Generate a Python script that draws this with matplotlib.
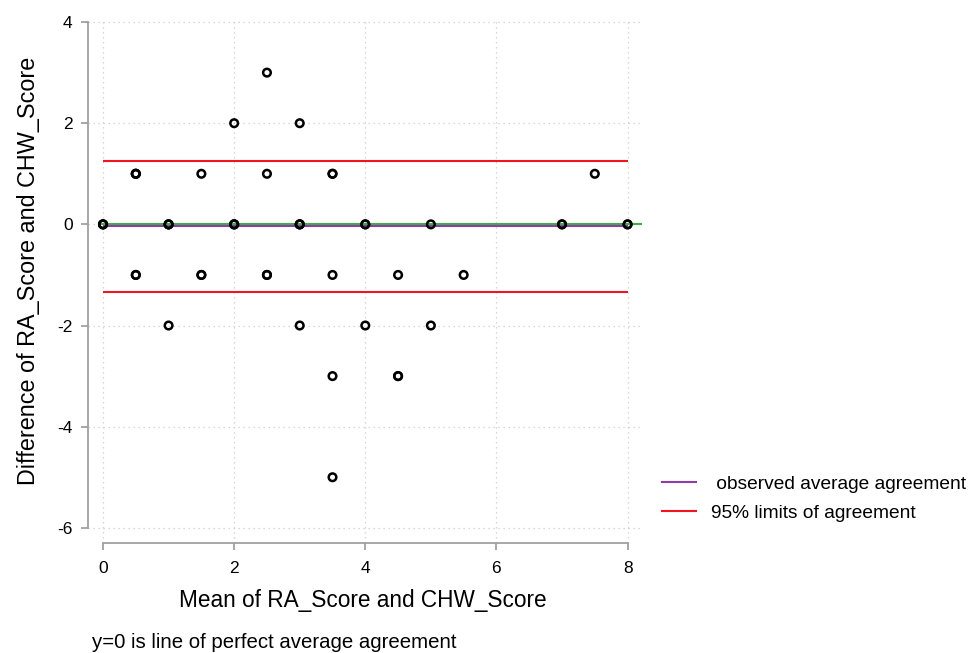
import matplotlib
matplotlib.use("Agg")
import matplotlib.pyplot as plt
from matplotlib.lines import Line2D

# mean and difference of the two scores (repeated pairs listed more than once)
mean_score = [0, 0, 0, 1, 1, 1, 2, 2, 2, 3, 3, 3, 4, 4, 5, 7, 7, 8, 8,
              0.5, 0.5, 0.5, 1.5, 2.5, 3.5, 3.5, 7.5,
              2, 3, 2.5,
              0.5, 0.5, 1.5, 1.5, 2.5, 2.5, 3.5, 4.5, 5.5,
              1, 3, 4, 5,
              3.5, 4.5, 4.5,
              3.5]
diff_score = [0, 0, 0, 0, 0, 0, 0, 0, 0, 0, 0, 0, 0, 0, 0, 0, 0, 0, 0,
              1, 1, 1, 1, 1, 1, 1, 1,
              2, 2, 3,
              -1, -1, -1, -1, -1, -1, -1, -1, -1,
              -2, -2, -2, -2,
              -3, -3, -3,
              -5]

mean_diff = -0.04
lower_loa = -1.33
upper_loa = 1.25
x_ticks = [0, 2, 4, 6, 8]
y_ticks = [-6, -4, -2, 0, 2, 4]
legend_labels = [' observed average agreement', '95% limits of agreement']

plt.rcParams['font.family'] = ['Liberation Sans', 'DejaVu Sans']
plt.rcParams['axes.unicode_minus'] = False

W, H = 970, 653
fig = plt.figure(figsize=(W / 100, H / 100), dpi=100)
ax = fig.add_axes([88 / W, 1 - 543 / H, (642 - 88) / W, (543 - 18) / H])

grey = '#a0a0a0'
ax.set_xlim(-0.229, 8.22)
ax.set_ylim(-6.3, 4.08)
ax.set_xticks(x_ticks)
ax.set_yticks(y_ticks)
ax.grid(True, linestyle=(0, (1, 3)), color='#cccccc', linewidth=0.9)
ax.set_axisbelow(True)

for side in ['top', 'right']:
    ax.spines[side].set_visible(False)
for side in ['left', 'bottom']:
    ax.spines[side].set_color(grey)
    ax.spines[side].set_linewidth(1.3)
ax.spines['left'].set_bounds(-6, 4)
ax.spines['bottom'].set_bounds(0, 8)
ax.tick_params(axis='both', colors=grey, length=5, width=1.3, labelsize=12.5,
               labelcolor='black', direction='out')
ax.tick_params(axis='x', pad=8)
ax.tick_params(axis='y', pad=6)

# reference lines
ax.axhline(0, xmin=0.02, xmax=1.0, color='#3cb043', linewidth=1.5, zorder=2)
ax.hlines(mean_diff, 0, 8, color='#8e3ca8', linewidth=1.5, zorder=2)
ax.hlines([lower_loa, upper_loa], 0, 8, color='#f0141e', linewidth=1.5, zorder=2)

ax.scatter(mean_score, diff_score, s=30, facecolors='none', edgecolors='black',
           linewidths=1.8, zorder=3)

ax.set_xlabel('Mean of RA_Score and CHW_Score', fontsize=16.3, va='center')
ax.set_ylabel('Difference of RA_Score and CHW_Score', fontsize=16.8, va='center')
ax.xaxis.set_label_coords((363 - 88) / 554, (543 - 600) / 525)
ax.yaxis.set_label_coords((29 - 88) / 554, (543 - 271) / 525)

handles = [Line2D([], [], color='#8e3ca8', linewidth=1.5),
           Line2D([], [], color='#f0141e', linewidth=1.5)]
fig.legend(handles, legend_labels,
           loc='center left', bbox_to_anchor=(662 / W, 1 - 498.5 / H),
           frameon=False, fontsize=13.8, handlelength=1.77, handletextpad=0.78,
           labelspacing=0.62, borderpad=0, borderaxespad=0)

fig.text(92 / W, 1 - 642 / H, 'y=0 is line of perfect average agreement',
         fontsize=14.7, va='center', ha='left')

fig.savefig('out.png', dpi=100, facecolor='white')
